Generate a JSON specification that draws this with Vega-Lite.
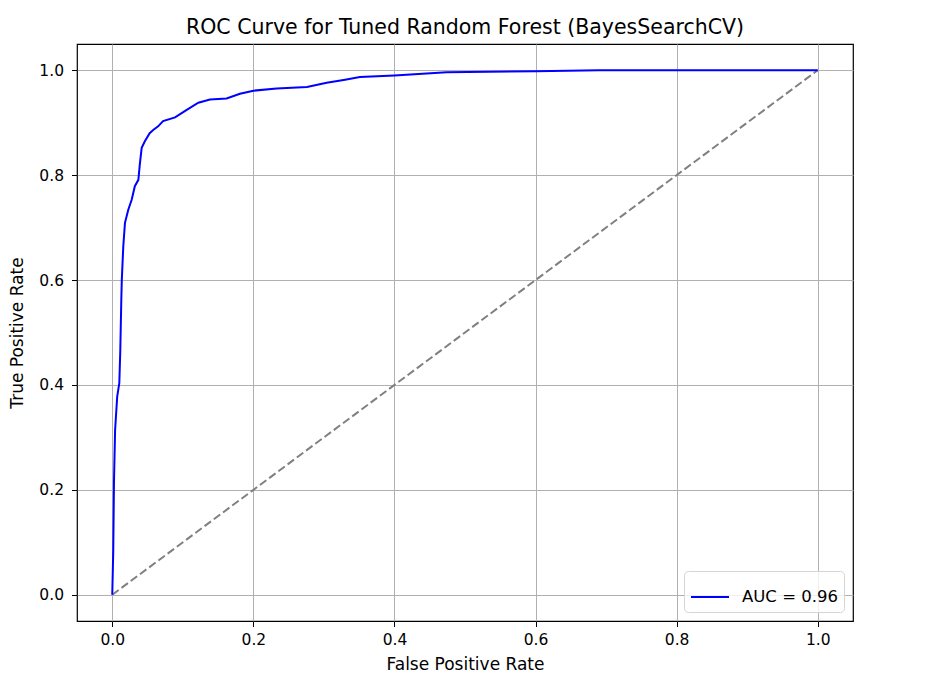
{
  "$schema": "https://vega.github.io/schema/vega-lite/v5.json",
  "width": 776,
  "height": 577,
  "autosize": {"type": "none"},
  "padding": {"left": 77, "top": 44, "right": 77, "bottom": 61},
  "background": "white",
  "title": {
    "text": "ROC Curve for Tuned Random Forest (BayesSearchCV)",
    "font": "DejaVu Sans",
    "fontSize": 20.5,
    "fontWeight": "normal",
    "color": "black",
    "offset": 6
  },
  "config": {
    "view": {"stroke": "black", "strokeWidth": 1.2},
    "axis": {
      "labelFont": "DejaVu Sans",
      "labelFontSize": 15.5,
      "labelColor": "black",
      "titleFont": "DejaVu Sans",
      "titleFontSize": 17,
      "titleFontWeight": "normal",
      "titleColor": "black",
      "domain": false,
      "tickColor": "black",
      "tickSize": 5.5,
      "gridColor": "#b0b0b0",
      "gridWidth": 1,
      "gridOpacity": 1
    }
  },
  "datasets": {
    "roc": [
      {"fpr": 0.0, "tpr": 0.0, "series": "AUC = 0.96"},
      {"fpr": 0.0014, "tpr": 0.085, "series": "AUC = 0.96"},
      {"fpr": 0.0024, "tpr": 0.213, "series": "AUC = 0.96"},
      {"fpr": 0.004, "tpr": 0.314, "series": "AUC = 0.96"},
      {"fpr": 0.007, "tpr": 0.378, "series": "AUC = 0.96"},
      {"fpr": 0.01, "tpr": 0.404, "series": "AUC = 0.96"},
      {"fpr": 0.0114, "tpr": 0.467, "series": "AUC = 0.96"},
      {"fpr": 0.0128, "tpr": 0.562, "series": "AUC = 0.96"},
      {"fpr": 0.0135, "tpr": 0.6, "series": "AUC = 0.96"},
      {"fpr": 0.0156, "tpr": 0.664, "series": "AUC = 0.96"},
      {"fpr": 0.018, "tpr": 0.709, "series": "AUC = 0.96"},
      {"fpr": 0.0227, "tpr": 0.734, "series": "AUC = 0.96"},
      {"fpr": 0.0275, "tpr": 0.753, "series": "AUC = 0.96"},
      {"fpr": 0.032, "tpr": 0.779, "series": "AUC = 0.96"},
      {"fpr": 0.037, "tpr": 0.791, "series": "AUC = 0.96"},
      {"fpr": 0.039, "tpr": 0.82, "series": "AUC = 0.96"},
      {"fpr": 0.0417, "tpr": 0.852, "series": "AUC = 0.96"},
      {"fpr": 0.046, "tpr": 0.864, "series": "AUC = 0.96"},
      {"fpr": 0.053, "tpr": 0.88, "series": "AUC = 0.96"},
      {"fpr": 0.058, "tpr": 0.886, "series": "AUC = 0.96"},
      {"fpr": 0.065, "tpr": 0.893, "series": "AUC = 0.96"},
      {"fpr": 0.072, "tpr": 0.903, "series": "AUC = 0.96"},
      {"fpr": 0.089, "tpr": 0.91, "series": "AUC = 0.96"},
      {"fpr": 0.105, "tpr": 0.924, "series": "AUC = 0.96"},
      {"fpr": 0.122, "tpr": 0.938, "series": "AUC = 0.96"},
      {"fpr": 0.1385, "tpr": 0.944, "series": "AUC = 0.96"},
      {"fpr": 0.162, "tpr": 0.946, "series": "AUC = 0.96"},
      {"fpr": 0.181, "tpr": 0.955, "series": "AUC = 0.96"},
      {"fpr": 0.2, "tpr": 0.961, "series": "AUC = 0.96"},
      {"fpr": 0.233, "tpr": 0.965, "series": "AUC = 0.96"},
      {"fpr": 0.276, "tpr": 0.968, "series": "AUC = 0.96"},
      {"fpr": 0.304, "tpr": 0.976, "series": "AUC = 0.96"},
      {"fpr": 0.33, "tpr": 0.982, "series": "AUC = 0.96"},
      {"fpr": 0.351, "tpr": 0.987, "series": "AUC = 0.96"},
      {"fpr": 0.4, "tpr": 0.99, "series": "AUC = 0.96"},
      {"fpr": 0.474, "tpr": 0.996, "series": "AUC = 0.96"},
      {"fpr": 0.6, "tpr": 0.998, "series": "AUC = 0.96"},
      {"fpr": 0.69, "tpr": 1.0, "series": "AUC = 0.96"},
      {"fpr": 1.0, "tpr": 1.0, "series": "AUC = 0.96"}
    ],
    "diag": [
      {"fpr": 0.0, "tpr": 0.0},
      {"fpr": 1.0, "tpr": 1.0}
    ]
  },
  "encoding": {
    "x": {
      "field": "fpr",
      "type": "quantitative",
      "title": "False Positive Rate",
      "scale": {"domain": [-0.05, 1.05], "nice": false, "zero": false},
      "axis": {"values": [0, 0.2, 0.4, 0.6, 0.8, 1.0], "format": ".1f", "labelPadding": 6, "titlePadding": 8}
    },
    "y": {
      "field": "tpr",
      "type": "quantitative",
      "title": "True Positive Rate",
      "scale": {"domain": [-0.05, 1.05], "nice": false, "zero": false},
      "axis": {"values": [0, 0.2, 0.4, 0.6, 0.8, 1.0], "format": ".1f", "labelPadding": 8, "titlePadding": 12}
    }
  },
  "layer": [
    {
      "data": {"name": "diag"},
      "mark": {"type": "line", "color": "gray", "strokeWidth": 2, "strokeDash": [8, 3.5]}
    },
    {
      "data": {"name": "roc"},
      "mark": {"type": "line", "strokeWidth": 2},
      "encoding": {
        "color": {
          "field": "series",
          "type": "nominal",
          "scale": {"range": ["blue"]},
          "legend": {
            "title": null,
            "orient": "bottom-right",
            "offset": 9,
            "symbolType": "stroke",
            "symbolSize": 1444,
            "symbolStrokeWidth": 2,
            "labelFont": "DejaVu Sans",
            "labelFontSize": 16.5,
            "labelColor": "black",
            "labelOffset": 12,
            "fillColor": "rgba(255,255,255,0.8)",
            "strokeColor": "#d5d5d5",
            "cornerRadius": 4,
            "padding": 6
          }
        }
      }
    }
  ]
}
